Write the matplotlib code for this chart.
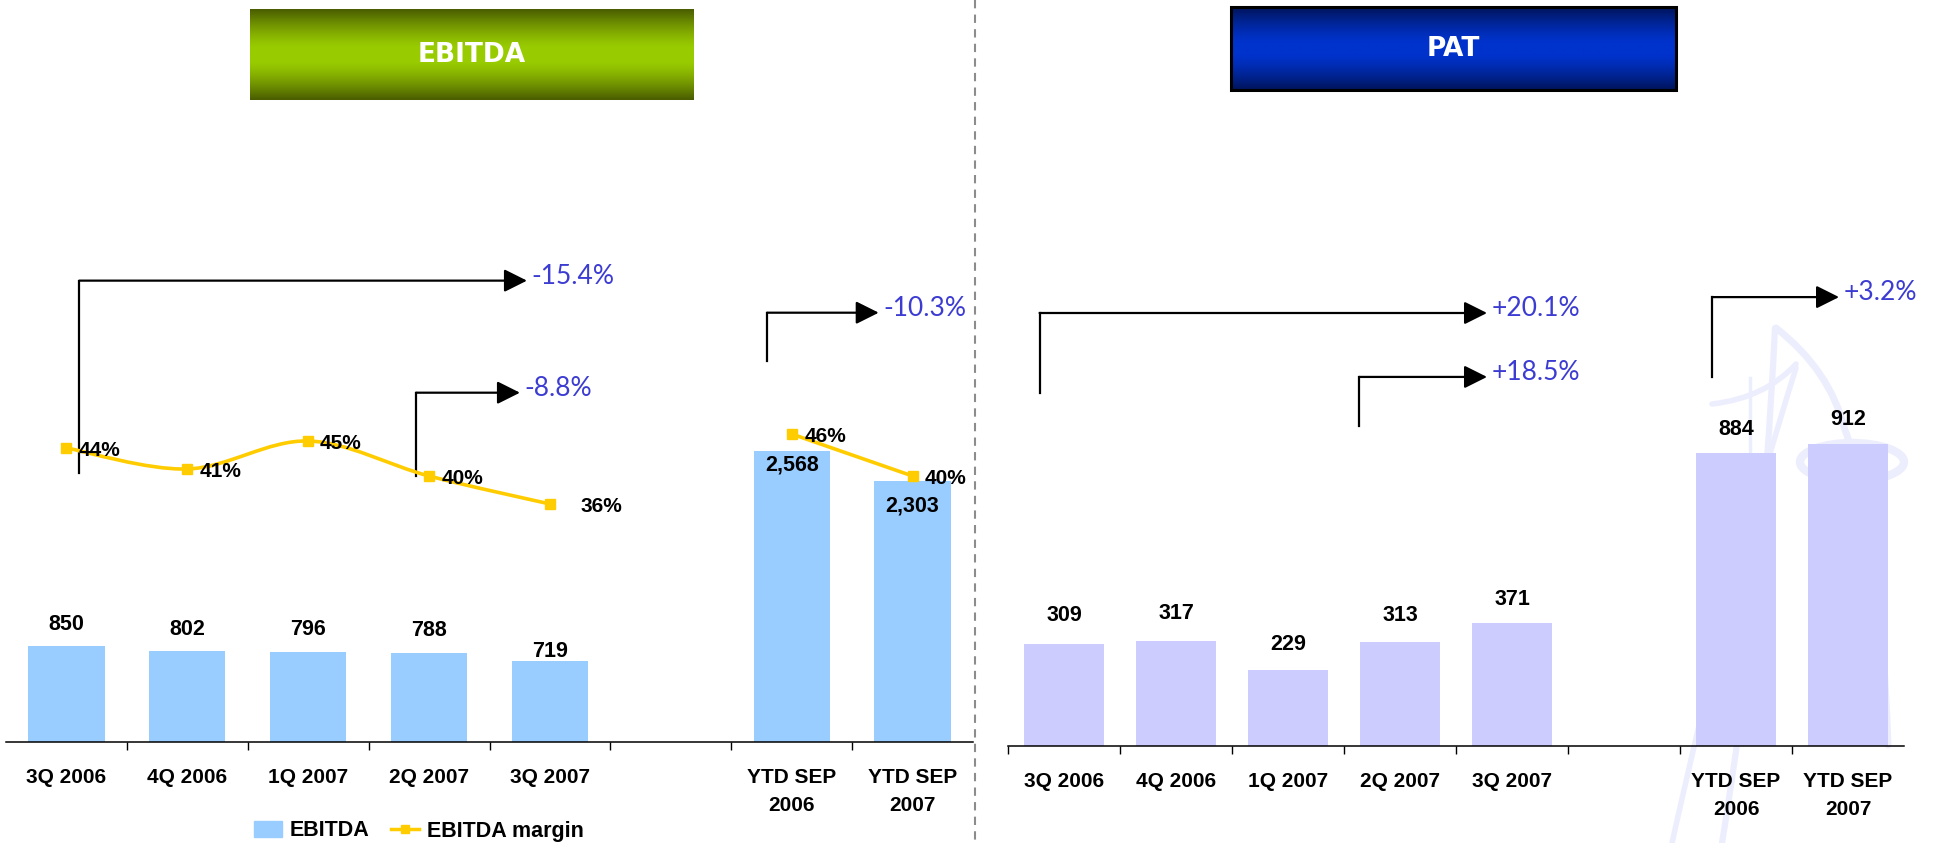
import numpy as np
import matplotlib.pyplot as plt
import matplotlib.colors as mcolors
from matplotlib.path import Path
from matplotlib.patches import PathPatch, Rectangle, Ellipse, Patch
from matplotlib.lines import Line2D

# quarterly and year-to-date figures
quarters = ['3Q 2006', '4Q 2006', '1Q 2007', '2Q 2007', '3Q 2007']
ytd_periods = ['YTD SEP\n2006', 'YTD SEP\n2007']

ebitda_q = [850, 802, 796, 788, 719]
ebitda_ytd = [2568, 2303]
margin_q = [44, 41, 45, 40, 36]
margin_ytd = [46, 40]
pat_q = [309, 317, 229, 313, 371]
pat_ytd = [884, 912]

W, H = 1936, 843
label_font = 'Liberation Sans'
growth_font = 'Lato'
bar_blue = '#99CCFF'
bar_lilac = '#CCCCFF'
line_yellow = '#FFCC00'
growth_blue = '#3C3CD2'

xq = np.arange(len(quarters))
xy = np.arange(len(ytd_periods)) + len(quarters) + 1
xall = np.concatenate([xq, xy])
xlabels = quarters + ytd_periods

fig = plt.figure(figsize=(W / 100, H / 100), dpi=100)


def px_axes(left, top, right, bottom, **kw):
    return fig.add_axes([left / W, 1 - bottom / H, (right - left) / W, (bottom - top) / H], **kw)


# background layer in pixel coordinates (headers, divider, watermark)
bg = fig.add_axes([0, 0, 1, 1], zorder=0)


def header(x0, y0, x1, y1, dark, light, text, border=False):
    t = np.linspace(0, 1, 200)
    w = np.clip((np.abs(t - 0.5) * 2 - 0.15) / 0.85, 0, 1) ** 1.3
    d = np.array(mcolors.to_rgb(dark))
    l = np.array(mcolors.to_rgb(light))
    img = l[None, :] * (1 - w[:, None]) + d[None, :] * w[:, None]
    bg.imshow(img[:, None, :], extent=(x0, x1, y1, y0), aspect='auto',
              interpolation='bilinear', zorder=1)
    if border:
        bg.add_patch(Rectangle((x0, y0), x1 - x0, y1 - y0, fill=False,
                               ec='black', lw=2.2, zorder=2))
    bg.text((x0 + x1) / 2, (y0 + y1) / 2 + 1, text, color='white', fontsize=19,
            fontweight='bold', family='DejaVu Sans', ha='center', va='center', zorder=3)


header(250, 9, 694, 100, '#4A5C00', '#99CC00', 'EBITDA')
header(1231, 7, 1676, 90, '#00145A', '#0033CC', 'PAT', border=True)

bg.plot([975, 975], [0, H], color='#8C8C8C', lw=1.5, ls=(0, (4, 3)))

# faint sail watermark behind the PAT year-to-date bars
wm = '#ECEEFE'
mast = Path([(1775, 328), (1762, 600), (1722, 843)], [Path.MOVETO, Path.CURVE3, Path.CURVE3])
sail = Path([(1776, 328), (1830, 370), (1845, 430), (1880, 520), (1888, 745)],
            [Path.MOVETO, Path.CURVE3, Path.CURVE3, Path.CURVE3, Path.CURVE3])
swoosh = Path([(1712, 404), (1765, 398), (1796, 364)], [Path.MOVETO, Path.CURVE3, Path.CURVE3])
back = Path([(1796, 368), (1735, 560), (1672, 843)], [Path.MOVETO, Path.CURVE3, Path.CURVE3])
for p, lw in [(mast, 4.5), (sail, 5), (swoosh, 4), (back, 4)]:
    bg.add_patch(PathPatch(p, fill=False, ec=wm, lw=lw, capstyle='round', zorder=1))
bg.add_patch(Ellipse((1852, 462), 104, 38, fill=False, ec=wm, lw=6, zorder=1))
bg.plot([1750, 1750], [378, 470], color=wm, lw=2.5, zorder=1)

bg.set_xlim(0, W)
bg.set_ylim(H, 0)
bg.axis('off')


def setup(ax, top, edge_tick):
    ax.set_xlim(-0.5, 7.5)
    ax.set_ylim(0, top)
    ax.set_facecolor('none')
    for s in ['left', 'right', 'top']:
        ax.spines[s].set_visible(False)
    ax.spines['bottom'].set_linewidth(1.1)
    ax.set_yticks([])
    ax.set_xticks(xall, xlabels)
    ax.tick_params(axis='x', which='major', length=0, pad=19)
    start = -0.5 if edge_tick else 0.5
    ax.set_xticks(np.arange(start, 7, 1.0), minor=True)
    ax.tick_params(axis='x', which='minor', length=6, width=1)
    for t in ax.get_xticklabels():
        t.set_fontfamily(label_font)
        t.set_fontweight('bold')
        t.set_fontsize(15)
        t.set_linespacing(1.55)


def value_labels(ax, values, offsets, fmt='{:,}'):
    for x, v, off in zip(xall, values, offsets):
        ax.annotate(fmt.format(v), (x, v), xytext=(0, off * 0.72), textcoords='offset points',
                    ha='center', va='center', fontsize=15.5, fontweight='bold',
                    family=label_font, zorder=5)


def bracket(ax, x0, y0, y1, x1, text):
    ax.plot([x0, x0], [y0, y1], color='black', lw=1.6, solid_capstyle='projecting', zorder=4)
    ax.annotate('', xy=(x1, y1), xytext=(x0, y1),
                arrowprops=dict(arrowstyle='-|>,head_length=1.4,head_width=0.7',
                                color='black', lw=1.6, shrinkA=0, shrinkB=0,
                                mutation_scale=10), zorder=4)
    ax.annotate(text, (x1, y1), xytext=(3, 3), textcoords='offset points',
                ha='left', va='center', color=growth_blue, fontsize=19,
                family=growth_font, fontweight='normal', zorder=5)


def growth(a, b):
    return '{:+.1f}%'.format((b / a - 1) * 100)


def smooth_path(xs, ys):
    pts = np.column_stack([xs, ys]).astype(float)
    ext = np.vstack([pts[0], pts, pts[-1]])
    verts = [tuple(pts[0])]
    codes = [Path.MOVETO]
    for i in range(1, len(ext) - 2):
        p0, p1, p2, p3 = ext[i - 1], ext[i], ext[i + 1], ext[i + 2]
        verts += [tuple(p1 + (p2 - p0) / 6), tuple(p2 - (p3 - p1) / 6), tuple(p2)]
        codes += [Path.CURVE4] * 3
    return Path(verts, codes)


# ---- EBITDA panel ----
ax = px_axes(6, 150, 973, 742, zorder=1)
setup(ax, 5225, edge_tick=False)
ebitda = ebitda_q + ebitda_ytd
ax.bar(xall, ebitda, width=0.63, color=bar_blue, zorder=2)
value_labels(ax, ebitda, [21, 22, 22, 22, 9, -14, -25])

ax2 = ax.twinx()
ax2.set_ylim(2, 2 + 592 / 7.0)
ax2.set_yticks([])
for s in ax2.spines.values():
    s.set_visible(False)
ax2.add_patch(PathPatch(smooth_path(xq, margin_q), fill=False, ec=line_yellow,
                        lw=2.6, transform=ax2.transData, zorder=3))
ax2.plot(xq, margin_q, ls='none', marker='s', ms=7.5, color=line_yellow, zorder=4)
ax2.plot(xy, margin_ytd, color=line_yellow, lw=2.6, marker='s', ms=7.5, zorder=4)
margin_dx = [9, 9, 8, 9, 22, 9, 9]
for x, m, dx in zip(xall, margin_q + margin_ytd, margin_dx):
    ax2.annotate(f'{m}%', (x, m), xytext=(dx, -1.5), textcoords='offset points',
                 ha='left', va='center', fontsize=15, fontweight='bold',
                 family=label_font, zorder=5)

bracket(ax, 0.108, 2377, 4072, 3.81, growth(ebitda_q[0], ebitda_q[4]))
bracket(ax, 2.892, 2348, 3083, 3.752, growth(ebitda_q[3], ebitda_q[4]))
bracket(ax, 5.796, 3363, 3789, 6.72, growth(ebitda_ytd[0], ebitda_ytd[1]))

handles = [Patch(color=bar_blue),
           Line2D([], [], color=line_yellow, lw=2.5, marker='s', ms=6)]
fig.legend(handles, ['EBITDA', 'EBITDA margin'], loc='center',
           bbox_to_anchor=(419 / W, 1 - 831 / H), ncol=2, frameon=False,
           prop=dict(family=label_font, weight='bold', size=15.5),
           handlelength=1.3, handleheight=0.7, handletextpad=0.35,
           columnspacing=1.0, borderpad=0)

# ---- PAT panel ----
bx = px_axes(1008, 150, 1904, 746, zorder=1)
setup(bx, 1799, edge_tick=True)
pat = pat_q + pat_ytd
bx.bar(xall, pat, width=0.72, color=bar_lilac, zorder=2)
value_labels(bx, pat, [28, 27, 25.5, 27, 23.6, 24, 24])

bracket(bx, -0.218, 1067, 1307, 3.777, growth(pat_q[0], pat_q[4]))
bracket(bx, 2.637, 966, 1114, 3.777, growth(pat_q[3], pat_q[4]))
bracket(bx, 5.786, 1114, 1355, 6.92, growth(pat_ytd[0], pat_ytd[1]))

fig.savefig('out.png', dpi=100)
